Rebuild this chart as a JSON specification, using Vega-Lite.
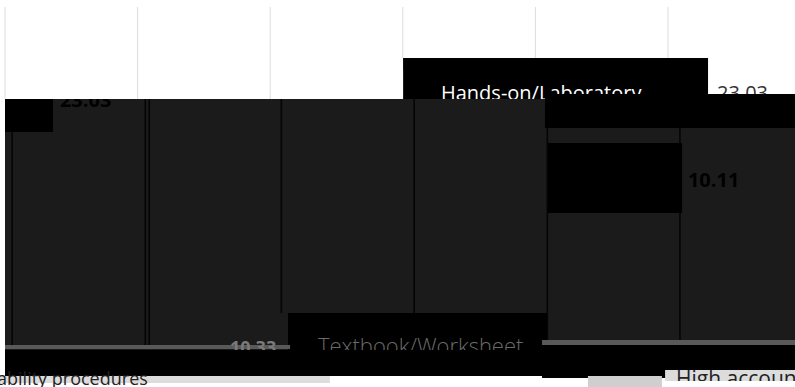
{
  "$schema": "https://vega.github.io/schema/vega-lite/v6.json",
  "width": 795,
  "height": 387,
  "autosize": "none",
  "padding": 0,
  "background": "#ffffff",
  "config": {"view": {"stroke": null}},
  "datasets": {
    "blocks": [
      {"step": "a", "tone": "black", "x": 15.01, "x2": 26.51, "y": 14.99, "y2": 25.58},
      {"step": "b", "tone": "plot", "x": 0, "x2": 30, "y": 25.58, "y2": 90.44},
      {"step": "b", "tone": "black", "x": 20.36, "x2": 30, "y": 24.29, "y2": 33.07},
      {"step": "b", "tone": "black", "x": 0, "x2": 1.81, "y": 25.58, "y2": 34.11},
      {"step": "b", "tone": "black", "x": 20.44, "x2": 25.53, "y": 36.95, "y2": 55.04},
      {"step": "b", "tone": "edge", "x": 0.24, "x2": 0.3, "y": 34.11, "y2": 89.15},
      {"step": "b", "tone": "edge", "x": 5.26, "x2": 5.32, "y": 25.58, "y2": 89.15},
      {"step": "b", "tone": "edge", "x": 5.41, "x2": 5.47, "y": 25.58, "y2": 89.15},
      {"step": "b", "tone": "edge", "x": 10.39, "x2": 10.45, "y": 25.58, "y2": 80.88},
      {"step": "b", "tone": "edge", "x": 15.4, "x2": 15.46, "y": 25.58, "y2": 80.88},
      {"step": "b", "tone": "edge", "x": 20.42, "x2": 20.48, "y": 33.07, "y2": 87.86},
      {"step": "b", "tone": "edge", "x": 25.42, "x2": 25.48, "y": 33.07, "y2": 36.95},
      {"step": "b", "tone": "edge", "x": 25.42, "x2": 25.48, "y": 55.04, "y2": 87.86},
      {"step": "b", "tone": "black", "x": 10.67, "x2": 20.44, "y": 80.88, "y2": 90.44},
      {"step": "b", "tone": "base", "x": 0, "x2": 10.75, "y": 89.15, "y2": 90.18},
      {"step": "b", "tone": "base", "x": 20.25, "x2": 30, "y": 87.86, "y2": 89.15},
      {"step": "c", "tone": "white", "x": 0, "x2": 15.01, "y": 18, "y2": 25.58},
      {"step": "d", "tone": "black", "x": 0, "x2": 30, "y": 90.44, "y2": 97.16},
      {"step": "d", "tone": "black", "x": 20.25, "x2": 30, "y": 89.15, "y2": 97.67},
      {"step": "d", "tone": "strip", "x": -0.19, "x2": 12.25, "y": 97.16, "y2": 98.97},
      {"step": "d", "tone": "box", "x": 21.98, "x2": 24.77, "y": 97.16, "y2": 100},
      {"step": "d", "tone": "strip", "x": 24.89, "x2": 30, "y": 95.61, "y2": 98.45},
      {"step": "e", "tone": "white", "x": 24.89, "x2": 30, "y": 98.45, "y2": 100}
    ],
    "grid": [
      {"x": 0, "y": 1.81, "y2": 25.58},
      {"x": 5, "y": 1.81, "y2": 25.58},
      {"x": 10, "y": 1.81, "y2": 25.58},
      {"x": 15, "y": 1.81, "y2": 14.99},
      {"x": 20, "y": 1.81, "y2": 14.99},
      {"x": 25, "y": 1.81, "y2": 14.99}
    ],
    "labels": [
      {"group": "white", "label": "Hands-on/Laboratory", "x": 16.44, "y": 25.84},
      {"group": "grey", "label": "23.03", "x": 26.85, "y": 25.84},
      {"group": "bold", "label": "23.03", "x": 2.07, "y": 27.65},
      {"group": "bold", "label": "10.11", "x": 25.75, "y": 48.32},
      {"group": "light", "label": "Textbook/Worksheet", "x": 11.8, "y": 91.47},
      {"group": "mid", "label": "10.33", "x": 8.48, "y": 91.47},
      {"group": "foot", "label": "ability procedures", "x": -0.3, "y": 99.6},
      {"group": "big", "label": "High account", "x": 25.3, "y": 99.74}
    ]
  },
  "encoding": {
    "x": {"type": "quantitative", "scale": {"domain": [0, 30], "range": [5, 800.6], "nice": false, "zero": false}, "axis": null},
    "y": {"type": "quantitative", "scale": {"domain": [0, 100], "range": [0, 387], "nice": false, "zero": false}, "axis": null}
  },
  "layer": [
    {
      "data": {"name": "blocks"},
      "transform": [{"filter": "datum.step === 'a'"}],
      "mark": {"type": "rect"},
      "encoding": {
        "x": {"field": "x", "type": "quantitative"}, "x2": {"field": "x2"},
        "y": {"field": "y", "type": "quantitative"}, "y2": {"field": "y2"},
        "color": {"field": "tone", "type": "nominal", "legend": null,
          "scale": {"domain": ["black", "plot", "edge", "base", "white", "strip", "box"], "range": ["#000000", "#1b1b1b", "#050505", "#595959", "#ffffff", "#dcdcdc", "#cfcfcf"]}}
      }
    },
    {
      "data": {"name": "labels"},
      "transform": [{"filter": "datum.group === 'white'"}],
      "mark": {"type": "text", "align": "left", "baseline": "alphabetic", "font": "Open Sans", "fontSize": 20, "color": "#ffffff"},
      "encoding": {"x": {"field": "x", "type": "quantitative"}, "y": {"field": "y", "type": "quantitative"}, "text": {"field": "label"}}
    },
    {
      "data": {"name": "labels"},
      "transform": [{"filter": "datum.group === 'grey'"}],
      "mark": {"type": "text", "align": "left", "baseline": "alphabetic", "font": "Open Sans", "fontSize": 20, "color": "#333333"},
      "encoding": {"x": {"field": "x", "type": "quantitative"}, "y": {"field": "y", "type": "quantitative"}, "text": {"field": "label"}}
    },
    {
      "data": {"name": "blocks"},
      "transform": [{"filter": "datum.step === 'b'"}],
      "mark": {"type": "rect"},
      "encoding": {
        "x": {"field": "x", "type": "quantitative"}, "x2": {"field": "x2"},
        "y": {"field": "y", "type": "quantitative"}, "y2": {"field": "y2"},
        "color": {"field": "tone", "type": "nominal", "legend": null}
      }
    },
    {
      "data": {"name": "labels"},
      "transform": [{"filter": "datum.group === 'bold'"}],
      "mark": {"type": "text", "align": "left", "baseline": "alphabetic", "font": "Open Sans", "fontSize": 20, "fontWeight": "bold", "color": "#000000"},
      "encoding": {"x": {"field": "x", "type": "quantitative"}, "y": {"field": "y", "type": "quantitative"}, "text": {"field": "label"}}
    },
    {
      "data": {"name": "blocks"},
      "transform": [{"filter": "datum.step === 'c'"}],
      "mark": {"type": "rect"},
      "encoding": {
        "x": {"field": "x", "type": "quantitative"}, "x2": {"field": "x2"},
        "y": {"field": "y", "type": "quantitative"}, "y2": {"field": "y2"},
        "color": {"field": "tone", "type": "nominal", "legend": null}
      }
    },
    {
      "data": {"name": "grid"},
      "mark": {"type": "rule", "color": "#dddddd", "strokeWidth": 1},
      "encoding": {"x": {"field": "x", "type": "quantitative"}, "y": {"field": "y", "type": "quantitative"}, "y2": {"field": "y2"}}
    },
    {
      "data": {"name": "labels"},
      "transform": [{"filter": "datum.group === 'light'"}],
      "mark": {"type": "text", "align": "left", "baseline": "alphabetic", "font": "Open Sans", "fontSize": 22, "fontWeight": 300, "color": "#6a6a6a"},
      "encoding": {"x": {"field": "x", "type": "quantitative"}, "y": {"field": "y", "type": "quantitative"}, "text": {"field": "label"}}
    },
    {
      "data": {"name": "labels"},
      "transform": [{"filter": "datum.group === 'mid'"}],
      "mark": {"type": "text", "align": "left", "baseline": "alphabetic", "font": "Open Sans", "fontSize": 18, "fontWeight": "bold", "color": "#7a7a7a"},
      "encoding": {"x": {"field": "x", "type": "quantitative"}, "y": {"field": "y", "type": "quantitative"}, "text": {"field": "label"}}
    },
    {
      "data": {"name": "blocks"},
      "transform": [{"filter": "datum.step === 'd'"}],
      "mark": {"type": "rect"},
      "encoding": {
        "x": {"field": "x", "type": "quantitative"}, "x2": {"field": "x2"},
        "y": {"field": "y", "type": "quantitative"}, "y2": {"field": "y2"},
        "color": {"field": "tone", "type": "nominal", "legend": null}
      }
    },
    {
      "data": {"name": "labels"},
      "transform": [{"filter": "datum.group === 'foot'"}],
      "mark": {"type": "text", "align": "left", "baseline": "alphabetic", "font": "Open Sans", "fontSize": 18, "color": "#222222"},
      "encoding": {"x": {"field": "x", "type": "quantitative"}, "y": {"field": "y", "type": "quantitative"}, "text": {"field": "label"}}
    },
    {
      "data": {"name": "labels"},
      "transform": [{"filter": "datum.group === 'big'"}],
      "mark": {"type": "text", "align": "left", "baseline": "alphabetic", "font": "Open Sans", "fontSize": 21, "color": "#222222"},
      "encoding": {"x": {"field": "x", "type": "quantitative"}, "y": {"field": "y", "type": "quantitative"}, "text": {"field": "label"}}
    },
    {
      "data": {"name": "blocks"},
      "transform": [{"filter": "datum.step === 'e'"}],
      "mark": {"type": "rect"},
      "encoding": {
        "x": {"field": "x", "type": "quantitative"}, "x2": {"field": "x2"},
        "y": {"field": "y", "type": "quantitative"}, "y2": {"field": "y2"},
        "color": {"field": "tone", "type": "nominal", "legend": null}
      }
    }
  ]
}
